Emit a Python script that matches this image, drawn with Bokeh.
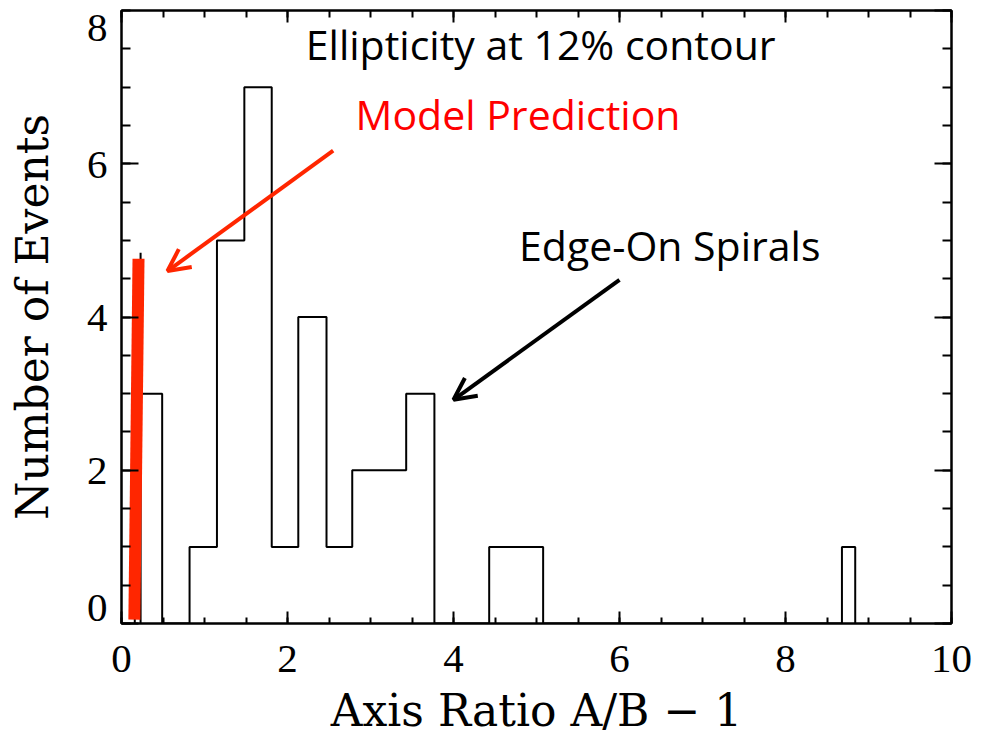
from bokeh.plotting import figure
from bokeh.models import (LinearAxis, Range1d, Label, Arrow, OpenHead,
                          SingleIntervalTicker, FixedTicker, CustomJSTickFormatter)
from bokeh.embed import file_html
from bokeh.resources import INLINE

# ---- data ----
bin_edges = [0.16, 0.49, 0.82, 1.15, 1.48, 1.81, 2.13, 2.47, 2.78, 3.10,
             3.43, 3.77, 4.43, 4.75, 5.08, 8.68, 8.84]
counts = [3, 0, 1, 5, 7, 1, 4, 1, 2, 2, 3, 0, 1, 1, 0, 1]
model_x = [0.23]
model_count = [4.84]
highlight_x = [0.155, 0.205]
highlight_y = [0.05, 4.76]
y_ticks = [0, 2, 4, 6]
y_top_tick = 8
title_text = "Ellipticity at 12% contour"
model_text = "Model Prediction"
edge_text = "Edge-On Spirals"
x_label = "Axis Ratio A/B \u2212 1"
y_label = "Number of Events"

RED = "#ff2600"

p = figure(width=989, height=739, x_range=Range1d(0, 10), y_range=Range1d(0, 8),
           output_backend="svg", toolbar_location=None,
           x_axis_label=x_label, y_axis_label=y_label,
           min_border_left=121, min_border_top=10, min_border_right=38,
           min_border_bottom=116)
p.xgrid.visible = False
p.ygrid.visible = False
p.outline_line_color = "black"
p.outline_line_width = 2
p.background_fill_color = "white"
p.border_fill_color = "white"

# histogram outline
xs = [bin_edges[0]] + bin_edges
ys = [0] + counts + [0]
p.step(xs, ys, mode="after", line_color="black", line_width=2)

# model prediction
p.segment(x0=model_x, y0=[0], x1=model_x, y1=model_count, line_color="black", line_width=2)
p.segment(x0=[highlight_x[0]], y0=[highlight_y[0]], x1=[highlight_x[1]], y1=[highlight_y[1]],
          line_color=RED, line_width=12)

# arrows
p.add_layout(Arrow(end=OpenHead(size=22, line_color=RED, line_width=4),
                   x_start=2.55, y_start=6.17, x_end=0.554, y_end=4.60,
                   line_color=RED, line_width=4))
p.add_layout(Arrow(end=OpenHead(size=22, line_color="black", line_width=4),
                   x_start=6.0, y_start=4.485, x_end=4.0, y_end=2.92,
                   line_color="black", line_width=4))

# texts
p.add_layout(Label(x=2.22, y=7.56, text=title_text, text_font="Open Sans",
                   text_font_size="41px", text_color="black",
                   text_align="left", text_baseline="alphabetic"))
p.add_layout(Label(x=2.82, y=6.65, text=model_text, text_font="Open Sans",
                   text_font_size="41px", text_color="#ff0000",
                   text_align="left", text_baseline="alphabetic"))
p.add_layout(Label(x=4.79, y=4.94, text=edge_text, text_font="Open Sans",
                   text_font_size="41px", text_color="black",
                   text_align="left", text_baseline="alphabetic"))

# axes styling
blank = CustomJSTickFormatter(code="return ''")

def style(ax, major, minor, interval, labels=True):
    ax.ticker = SingleIntervalTicker(interval=interval, num_minor_ticks=4)
    ax.major_tick_in = major
    ax.major_tick_out = 0
    ax.minor_tick_in = minor
    ax.minor_tick_out = 0
    ax.axis_line_width = 2
    ax.major_tick_line_width = 2
    ax.minor_tick_line_width = 2
    ax.axis_line_color = "black"
    ax.major_tick_line_color = "black"
    ax.minor_tick_line_color = "black"
    ax.major_label_text_font = "Liberation Serif"
    ax.major_label_text_font_size = "41px"
    ax.major_label_text_color = "black"
    ax.axis_label_text_font = "DejaVu Serif"
    ax.axis_label_text_font_size = "44px"
    ax.axis_label_text_font_style = "normal"
    ax.axis_label_text_color = "black"
    if not labels:
        ax.formatter = blank

xb = p.xaxis[0]
yl = p.yaxis[0]
style(xb, 12, 6, 2)
style(yl, 17, 9, 2)
yl.ticker = FixedTicker(ticks=y_ticks, minor_ticks=[i * 0.5 for i in range(17)])
xb.major_label_standoff = 22
xb.axis_label_standoff = 10
yl.major_label_standoff = 14
yl.axis_label_standoff = 26
# bottom label nudged up (as in the original) with a blank half line
yl.major_label_text_line_height = 0.7
yl.major_label_overrides = {0: "0\n"}

xt = LinearAxis()
style(xt, 12, 7, 2, labels=False)
yr = LinearAxis()
style(yr, 17, 9, 2, labels=False)
p.add_layout(xt, "above")
p.add_layout(yr, "right")

# top y tick label, nudged down inside the page like the original
p.add_layout(Label(x=0, y=y_top_tick, x_offset=-14, y_offset=-17, text=str(y_top_tick),
                   text_font="Liberation Serif", text_font_size="41px",
                   text_color="black", text_align="right", text_baseline="middle"),
             "right")

open("out.html", "w").write(file_html(p, INLINE))
